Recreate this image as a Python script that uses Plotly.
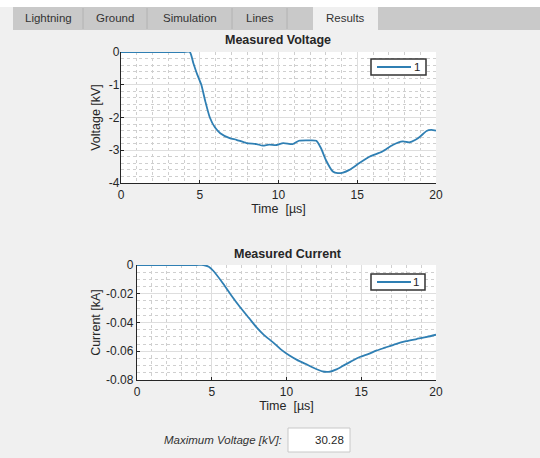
import plotly.graph_objects as go

# ---------------- data ----------------
volt_t = [0, 1, 2, 3, 4, 4.37, 4.6, 4.85, 5.1, 5.35, 5.64, 5.96, 6.3, 6.9, 7.33, 7.96, 8.6, 9.0, 9.4, 9.86,
          10.3, 10.9, 11.3, 11.8, 12.4, 12.7, 13.0, 13.45, 13.77, 14.1, 14.5, 15.14, 15.8, 16.6, 17.25,
          17.9, 18.3, 18.7, 19.0, 19.4, 19.7, 20.0]
volt_kv = [0, 0, 0, 0, 0, 0, -0.35, -0.7, -1.0, -1.5, -2.0, -2.3, -2.48, -2.63, -2.68, -2.78, -2.81,
           -2.86, -2.83, -2.84, -2.78, -2.81, -2.71, -2.7, -2.71, -2.94, -3.29, -3.65, -3.70, -3.68,
           -3.6, -3.39, -3.19, -3.04, -2.84, -2.73, -2.76, -2.68, -2.58, -2.41, -2.38, -2.4]

curr_t = [0, 1, 2, 3, 4, 4.44, 4.8, 5.1, 5.78, 6.3, 6.9, 7.5, 8.0, 8.5, 9.1, 9.6, 10.2, 10.7, 11.3,
          11.8, 12.4, 12.9, 13.3, 13.8, 14.3, 14.9, 15.5, 16.0, 16.6, 17.3, 18.0, 18.7, 19.4, 20.0]
curr_ka = [0, 0, 0, 0, 0, 0, -0.0012, -0.004, -0.0132, -0.021, -0.0294, -0.037, -0.0434, -0.0488,
           -0.0538, -0.0585, -0.063, -0.066, -0.0689, -0.0715, -0.074, -0.0742, -0.0728, -0.070,
           -0.0672, -0.064, -0.0618, -0.0596, -0.0575, -0.055, -0.053, -0.0515, -0.050, -0.0485]

x_ticks = [0, 5, 10, 15, 20]
x_ticktext = ["0", "5", "10", "15", "20"]
v_ticks = [0, -1, -2, -3, -4]
v_ticktext = ["0", "-1", "-2", "-3", "-4"]
c_ticks = [0, -0.02, -0.04, -0.06, -0.08]
c_ticktext = ["0", "-0.02", "-0.04", "-0.06", "-0.08"]

tab_labels = ["Lightning", "Ground", "Simulation", "Lines", "", "Results"]
tab_edges = [13, 83, 147, 232, 287, 313, 378]
series_name = "1"
max_voltage = "30.28"

# ---------------- figure ----------------
W, H = 540, 458
FONT = "Liberation Sans, Arial, sans-serif"
LINE = "#2f7fb3"

def px(x):
    return x / W

def py(y):
    return 1 - y / H

fig = go.Figure()
fig.add_trace(go.Scatter(x=volt_t, y=volt_kv, mode="lines", name=series_name,
                         line=dict(color=LINE, width=1.8, shape="spline", smoothing=0.6),
                         xaxis="x", yaxis="y", hoverinfo="skip"))
fig.add_trace(go.Scatter(x=curr_t, y=curr_ka, mode="lines", name=series_name,
                         line=dict(color=LINE, width=1.8, shape="spline", smoothing=0.6),
                         xaxis="x2", yaxis="y2", hoverinfo="skip"))

axis_common = dict(
    showline=True, linecolor="#262626", linewidth=1.3, mirror=False,
    ticks="inside", ticklen=3, tickcolor="#262626",
    showgrid=True, gridcolor="#dedede", gridwidth=1,
    zeroline=False, tickfont=dict(family=FONT, size=12, color="#262626"),
    fixedrange=True, automargin=False,
)
minor_common = dict(showgrid=True, gridcolor="#cfcfcf", griddash="dot", gridwidth=1)

fig.update_layout(
    width=W, height=H, autosize=False, margin=dict(l=0, r=0, t=0, b=0, pad=0),
    paper_bgcolor="#f0f0f0", plot_bgcolor="#ffffff",
    font=dict(family=FONT, color="#262626"),
    showlegend=False,
    xaxis=dict(domain=[px(121), px(436)], range=[0, 20], anchor="y",
               tickvals=x_ticks, ticktext=x_ticktext,
               minor=dict(dtick=1, **minor_common),
               title=dict(text="Time\u00a0\u00a0[µs]", font=dict(family=FONT, size=12.5), standoff=2),
               **axis_common),
    yaxis=dict(domain=[py(183), py(52)], range=[-4, 0], anchor="x",
               tickvals=v_ticks, ticktext=v_ticktext, ticklabelstandoff=-2,
               minor=dict(dtick=0.2, **minor_common),
               title=dict(text="Voltage [kV]", font=dict(family=FONT, size=12.5), standoff=5),
               **axis_common),
    xaxis2=dict(domain=[px(137), px(436)], range=[0, 20], anchor="y2",
                tickvals=x_ticks, ticktext=x_ticktext,
                minor=dict(dtick=1, **minor_common),
                title=dict(text="Time\u00a0\u00a0[µs]", font=dict(family=FONT, size=12.5), standoff=2),
                **axis_common),
    yaxis2=dict(domain=[py(380), py(265)], range=[-0.08, 0], anchor="x2",
                tickvals=c_ticks, ticktext=c_ticktext,
                minor=dict(dtick=0.005, **minor_common),
                title=dict(text="Current [kA]", font=dict(family=FONT, size=12.5), standoff=2),
                **axis_common),
)

shapes = []
annotations = []
# white strip above tabs
shapes.append(dict(type="rect", xref="paper", yref="paper", x0=0, x1=1, y0=py(7), y1=1,
                   fillcolor="#ffffff", line=dict(width=0), layer="below"))
# tab bar
shapes.append(dict(type="rect", xref="paper", yref="paper", x0=px(13), x1=1, y0=py(30), y1=py(7),
                   fillcolor="#c9c9c9", line=dict(width=0), layer="below"))
# selected tab
shapes.append(dict(type="rect", xref="paper", yref="paper", x0=px(tab_edges[5]), x1=px(tab_edges[6]),
                   y0=py(31), y1=py(7), fillcolor="#f0f0f0", line=dict(width=0), layer="below"))
for i in range(1, 5):
    shapes.append(dict(type="line", xref="paper", yref="paper", x0=px(tab_edges[i]), x1=px(tab_edges[i]),
                       y0=py(29), y1=py(8), line=dict(color="#b2b2b2", width=1)))
for i, lab in enumerate(tab_labels):
    if lab:
        annotations.append(dict(text=lab, xref="paper", yref="paper",
                                x=px((tab_edges[i] + tab_edges[i + 1]) / 2), y=py(18.5),
                                xanchor="center", yanchor="middle", showarrow=False,
                                font=dict(family=FONT, size=11.5, color="#333333")))
# titles
annotations.append(dict(text="<b>Measured Voltage</b>", xref="paper", yref="paper", x=px(278), y=py(40),
                        xanchor="center", yanchor="middle", showarrow=False,
                        font=dict(family=FONT, size=12.5, color="#262626")))
annotations.append(dict(text="<b>Measured Current</b>", xref="paper", yref="paper", x=px(288), y=py(254),
                        xanchor="center", yanchor="middle", showarrow=False,
                        font=dict(family=FONT, size=12.5, color="#262626")))

# legend boxes (drawn as layout decorations)
for (lx0, lx1, ly0, ly1) in [(371, 426, 59, 75), (371, 425, 274, 290)]:
    shapes.append(dict(type="rect", xref="paper", yref="paper", x0=px(lx0), x1=px(lx1),
                       y0=py(ly1), y1=py(ly0), fillcolor="#ffffff",
                       line=dict(color="#333333", width=1.5)))
    ym = (ly0 + ly1) / 2
    shapes.append(dict(type="line", xref="paper", yref="paper", x0=px(lx0 + 6), x1=px(lx0 + 40),
                       y0=py(ym), y1=py(ym), line=dict(color=LINE, width=1.8)))
    annotations.append(dict(text=series_name, xref="paper", yref="paper", x=px(lx1 - 4), y=py(ym),
                            xanchor="right", yanchor="middle", showarrow=False,
                            font=dict(family=FONT, size=11.5, color="#262626")))

# bottom field
annotations.append(dict(text="<i>Maximum Voltage [kV]:</i>", xref="paper", yref="paper", x=px(284), y=py(440),
                        xanchor="right", yanchor="middle", showarrow=False,
                        font=dict(family=FONT, size=11.5, color="#333333")))
shapes.append(dict(type="rect", xref="paper", yref="paper", x0=px(288), x1=px(350), y0=py(452), y1=py(428),
                   fillcolor="#ffffff", line=dict(color="#c8c8c8", width=1)))
annotations.append(dict(text=max_voltage, xref="paper", yref="paper", x=px(346), y=py(440),
                        xanchor="right", yanchor="middle", showarrow=False,
                        font=dict(family=FONT, size=11.5, color="#262626")))

fig.update_layout(shapes=shapes, annotations=annotations)
fig.write_html("out.html", config={"displayModeBar": False},
               post_script="document.body.style.margin='0';document.body.style.overflow='hidden';")
